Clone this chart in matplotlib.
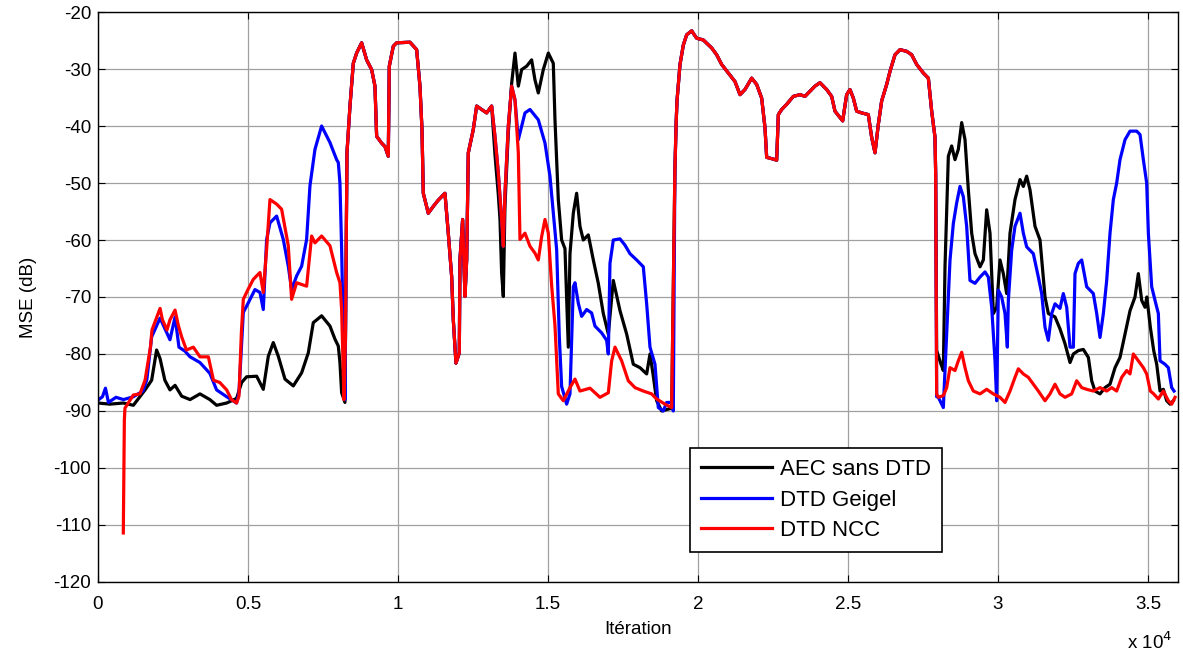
import numpy as np
import matplotlib
matplotlib.use("Agg")
import matplotlib.pyplot as plt

plt.rcParams['font.family'] = ['Liberation Sans', 'DejaVu Sans']
plt.rcParams['axes.unicode_minus'] = False

# Values (iteration, MSE in dB)
# --- first part, each curve on its own
black_pre_it = [0, 400, 845, 1180, 1570, 1790, 1955, 2070, 2230, 2400, 2570, 2790, 3070, 3400, 3730,
                3955, 4290, 4620, 4790, 4955, 5290, 5511, 5678, 5844, 6011, 6233, 6511, 6789, 7011,
                7177, 7455, 7733, 7900, 8011, 8066, 8122, 8233]
black_pre_db = [-88.6, -88.8, -88.6, -89.0, -86.3, -84.6, -79.3, -80.8, -84.6, -86.3, -85.5, -87.4,
                -88.0, -87.0, -88.0, -89.0, -88.6, -87.8, -85.0, -84.0, -83.9, -86.2, -80.4, -78.0,
                -80.4, -84.4, -85.6, -83.3, -79.8, -74.5, -73.3, -75.1, -77.4, -78.6, -81.5, -86.8,
                -88.5]

blue_pre_it = [0, 150, 250, 350, 600, 850, 1180, 1500, 1630, 1790, 2070, 2400, 2570, 2700, 2900,
               3070, 3400, 3730, 3955, 4290, 4620, 4700, 4845, 4955, 5233, 5400, 5511, 5622, 5733,
               5955, 6177, 6344, 6455, 6622, 6789, 6955, 7066, 7233, 7455, 7733, 7955, 8011, 8066,
               8122, 8177, 8233]
blue_pre_db = [-88.1, -87.5, -86.0, -88.5, -87.6, -88.0, -87.5, -86.5, -84.5, -77.0, -73.7, -77.5,
               -73.5, -78.8, -79.5, -80.5, -81.5, -83.4, -86.3, -87.5, -88.6, -86.8, -72.7, -71.6,
               -68.7, -69.2, -72.2, -59.9, -57.0, -55.8, -59.9, -64.6, -68.7, -66.3, -64.6, -59.9,
               -50.5, -44.1, -40.0, -42.9, -45.9, -46.4, -50.0, -61.6, -76.3, -88.0]

red_pre_it = [845, 880, 900, 1180, 1400, 1570, 1750, 1800, 2070, 2150, 2300, 2400, 2570, 2680, 2790,
              2950, 3180, 3400, 3680, 3850, 4060, 4290, 4450, 4620, 4700, 4780, 4845, 5000, 5178,
              5400, 5511, 5622, 5733, 5955, 6122, 6344, 6455, 6622, 6955, 7122, 7233, 7455, 7733,
              7955, 8066, 8122, 8200, 8250]
red_pre_db = [-111.4, -91.6, -89.5, -87.2, -87.0, -84.6, -78.8, -75.8, -72.0, -74.0, -75.8, -74.0,
              -72.3, -75.0, -77.0, -79.3, -78.8, -80.5, -80.5, -84.6, -85.0, -86.3, -88.0, -88.6,
              -87.4, -76.3, -70.4, -68.7, -66.9, -65.7, -69.2, -61.6, -52.9, -53.7, -54.6, -61.0,
              -70.4, -67.5, -68.1, -59.3, -60.5, -59.3, -61.0, -65.7, -67.5, -72.2, -88.0, -77.0]

# --- first double-talk zone, the three curves coincide
common_a_it = [8300, 8400, 8511, 8622, 8789, 8955, 9122, 9233, 9289, 9455, 9566, 9677, 9711, 9844,
               9955, 10400, 10622, 10733, 10800, 10844, 11011, 11177, 11344, 11566, 11677, 11789,
               11844, 11933, 12044, 12066, 12155, 12233, 12290, 12344, 12511, 12622, 12789, 12955,
               13122]
common_a_db = [-44.7, -36.5, -29.0, -27.2, -25.4, -28.4, -30.1, -33.0, -41.8, -43.0, -43.6, -45.3,
               -29.5, -26.0, -25.4, -25.3, -26.6, -33.0, -40.6, -51.8, -55.3, -54.1, -53.0, -51.8,
               -58.8, -66.4, -74.0, -81.6, -79.8, -63.5, -56.4, -69.9, -63.5, -44.7, -40.6, -36.5,
               -37.1, -37.7, -36.5]

# --- middle part
black_mid_it = [13233, 13344, 13400, 13455, 13511, 13566, 13677, 13789, 13900, 14011, 14122, 14289,
                14455, 14566, 14677, 14844, 15011, 15177, 15233, 15344, 15455, 15566, 15677, 15733,
                15844, 15955, 16066, 16177, 16344, 16511, 16677, 16844, 17011, 17177, 17400, 17622,
                17844, 18066, 18289, 18400, 18500, 18622, 18789, 19122]
black_mid_db = [-45.0, -52.0, -56.4, -65.8, -69.9, -54.0, -41.2, -32.5, -27.2, -33.0, -30.1, -29.5,
                -28.4, -31.9, -34.2, -30.1, -27.2, -29.0, -38.9, -52.9, -60.0, -61.5, -78.8, -62.4,
                -55.3, -51.8, -57.6, -60.0, -59.1, -63.5, -67.6, -72.9, -76.5, -67.1, -72.4, -76.5,
                -81.8, -82.4, -83.5, -80.0, -83.5, -88.2, -90.0, -89.5]

blue_mid_it = [13233, 13344, 13455, 13511, 13566, 13677, 13789, 13900, 14011, 14233, 14400, 14677,
               14900, 15066, 15177, 15289, 15377, 15455, 15622, 15733, 15844, 15900, 16011, 16122,
               16289, 16455, 16566, 16789, 16955, 17011, 17066, 17177, 17400, 17566, 17733, 17955,
               18177, 18289, 18400, 18566, 18677, 18844, 18955, 19122, 19177]
blue_mid_db = [-41.8, -48.2, -56.4, -61.1, -51.8, -40.0, -33.0, -35.4, -42.4, -37.7, -37.1, -38.9,
               -43.0, -48.8, -55.3, -61.7, -76.9, -85.7, -88.8, -87.0, -68.2, -67.5, -71.1, -73.4,
               -72.2, -72.8, -75.1, -76.3, -77.6, -80.0, -64.1, -60.0, -59.8, -60.9, -62.4, -63.5,
               -64.7, -71.2, -78.8, -81.8, -89.4, -90.0, -88.5, -88.5, -90.0]

red_mid_it = [13233, 13344, 13455, 13511, 13566, 13677, 13789, 13900, 14011, 14066, 14233, 14400,
              14566, 14677, 14789, 14900, 15011, 15122, 15233, 15344, 15511, 15733, 15900, 16066,
              16400, 16733, 17011, 17122, 17233, 17455, 17677, 17900, 18177, 18455, 18622, 18900,
              19122]
red_mid_db = [-41.8, -48.2, -56.4, -61.1, -51.8, -40.0, -33.0, -35.4, -44.7, -59.9, -58.8, -61.1,
              -62.3, -63.5, -59.4, -56.4, -58.8, -68.0, -75.0, -87.0, -88.2, -85.9, -84.4, -86.5,
              -86.0, -87.6, -86.8, -81.2, -78.8, -81.2, -84.7, -85.9, -86.5, -87.0, -87.9, -88.8,
              -89.4]

# --- second double-talk zone, the three curves coincide
common_b_it = [19230, 19270, 19300, 19400, 19511, 19622, 19789, 19955, 20177, 20455, 20622, 20789,
               21011, 21233, 21400, 21566, 21789, 21955, 22122, 22233, 22289, 22511, 22622, 22678,
               22789, 22955, 23177, 23400, 23566, 23733, 23900, 24066, 24289, 24455, 24566, 24733,
               24822, 24955, 25066, 25177, 25289, 25455, 25677, 25789, 25900, 26011, 26122, 26289,
               26400, 26566, 26733, 26955, 27122, 27289, 27511, 27678, 27789, 27900, 27922]
common_b_db = [-47.8, -39.7, -35.6, -29.2, -25.8, -24.0, -23.3, -24.6, -24.9, -26.3, -27.5, -29.2,
               -30.7, -32.2, -34.5, -33.6, -31.6, -32.7, -35.1, -40.3, -45.5, -45.8, -46.0, -38.0,
               -37.1, -36.2, -34.8, -34.5, -34.8, -33.9, -33.0, -32.4, -33.6, -34.8, -37.4, -38.5,
               -39.1, -34.5, -33.6, -35.1, -37.4, -37.7, -38.0, -42.0, -44.7, -39.7, -35.6, -32.7,
               -30.4, -27.5, -26.6, -26.9, -27.5, -29.2, -30.7, -31.6, -37.4, -42.0, -48.4]

# --- last part
black_post_it = [27955, 28100, 28177, 28233, 28344, 28455, 28566, 28677, 28789, 28900, 29011, 29122,
                 29233, 29400, 29511, 29622, 29733, 29844, 29955, 30066, 30177, 30289, 30400, 30566,
                 30733, 30844, 30955, 31066, 31233, 31400, 31566, 31678, 31900, 32066, 32233, 32400,
                 32511, 32677, 32844, 33011, 33122, 33233, 33400, 33566, 33733, 33900, 34066, 34233,
                 34400, 34566, 34677, 34789, 34900, 34960, 35077, 35189, 35289, 35400, 35511, 35622,
                 35733, 35844]
black_post_db = [-79.4, -81.8, -82.9, -64.7, -45.3, -43.5, -45.9, -44.1, -39.4, -42.4, -51.2, -58.8,
                 -62.4, -64.7, -63.5, -54.7, -58.8, -72.9, -71.8, -63.5, -65.9, -69.4, -58.8, -52.9,
                 -49.4, -50.6, -48.8, -51.2, -57.6, -60.0, -70.0, -72.9, -73.5, -75.6, -78.2, -81.5,
                 -80.0, -79.4, -79.2, -80.6, -84.7, -86.5, -87.0, -85.9, -85.3, -82.4, -80.6, -76.5,
                 -72.4, -70.0, -65.9, -70.6, -71.8, -70.0, -75.3, -79.4, -81.8, -86.5, -86.2, -88.2,
                 -88.8, -88.2]

blue_post_it = [27955, 28011, 28177, 28289, 28400, 28511, 28622, 28733, 28844, 28955, 29066, 29233,
                29400, 29566, 29677, 29789, 29900, 29955, 30011, 30122, 30233, 30311, 30344, 30455,
                30566, 30733, 30844, 30955, 31177, 31344, 31455, 31566, 31677, 31789, 31900, 32066,
                32177, 32289, 32400, 32511, 32566, 32677, 32789, 32955, 33177, 33289, 33400, 33511,
                33622, 33733, 33844, 33955, 34066, 34233, 34400, 34622, 34733, 34844, 34955, 35011,
                35122, 35233, 35344, 35400, 35566, 35677, 35789, 35867]
blue_post_db = [-87.5, -87.6, -89.4, -76.5, -63.5, -57.1, -53.5, -50.6, -52.4, -57.6, -67.1, -67.6,
                -66.5, -65.6, -66.5, -71.8, -81.2, -88.2, -68.8, -70.0, -72.9, -78.8, -70.6, -61.8,
                -57.6, -55.3, -58.8, -61.2, -62.4, -66.5, -69.4, -75.3, -77.6, -72.9, -71.2, -72.0,
                -69.4, -71.8, -78.8, -78.8, -65.9, -64.1, -63.5, -68.2, -69.4, -72.9, -77.1, -72.9,
                -67.1, -58.8, -52.9, -50.0, -45.9, -42.4, -40.9, -40.9, -41.5, -45.9, -50.0, -58.8,
                -68.2, -70.6, -72.9, -81.2, -81.8, -82.4, -85.9, -86.5]

red_post_it = [27955, 28011, 28177, 28289, 28400, 28566, 28677, 28789, 28900, 29011, 29177, 29400,
               29622, 29844, 30066, 30233, 30400, 30566, 30677, 30844, 31011, 31177, 31344, 31566,
               31733, 31900, 32066, 32233, 32455, 32622, 32789, 32955, 33177, 33400, 33622, 33789,
               33955, 34122, 34289, 34400, 34511, 34677, 34844, 34955, 35077, 35189, 35344, 35511,
               35677, 35789, 35900]
red_post_db = [-87.0, -87.6, -87.3, -85.9, -82.4, -82.9, -81.2, -79.7, -82.4, -84.7, -86.5, -87.0,
               -86.2, -87.0, -87.6, -88.5, -86.5, -84.1, -82.6, -83.5, -84.1, -85.3, -86.5, -88.2,
               -87.0, -85.3, -87.0, -87.6, -87.0, -84.7, -85.9, -86.2, -86.5, -85.9, -86.5, -85.9,
               -86.5, -84.1, -82.9, -83.5, -80.0, -81.2, -82.4, -83.5, -86.5, -87.0, -87.9, -86.5,
               -88.2, -88.8, -87.6]

labels = ['AEC sans DTD', 'DTD Geigel', 'DTD NCC']
x_ticks = [0, 5000, 10000, 15000, 20000, 25000, 30000, 35000]
x_ticklabels = ['0', '0.5', '1', '1.5', '2', '2.5', '3', '3.5']
y_ticks = list(range(-120, -19, 10))

# assemble each curve from its parts
black_it = black_pre_it + common_a_it + black_mid_it + common_b_it + black_post_it
black_db = black_pre_db + common_a_db + black_mid_db + common_b_db + black_post_db
blue_it = blue_pre_it + common_a_it + blue_mid_it + common_b_it + blue_post_it
blue_db = blue_pre_db + common_a_db + blue_mid_db + common_b_db + blue_post_db
red_it = red_pre_it + common_a_it + red_mid_it + common_b_it + red_post_it
red_db = red_pre_db + common_a_db + red_mid_db + common_b_db + red_post_db

fig = plt.figure(figsize=(11.83, 6.57), dpi=100)
ax = fig.add_axes([0.0828, 0.1142, 0.9130, 0.8675])

ax.plot(black_it, black_db, color='black', lw=2.3, label=labels[0])
ax.plot(blue_it, blue_db, color='blue', lw=2.3, label=labels[1])
ax.plot(red_it, red_db, color='red', lw=2.3, label=labels[2])

ax.set_xlim(0, 36000)
ax.set_ylim(-120, -20)
ax.set_xticks(x_ticks)
ax.set_xticklabels(x_ticklabels)
ax.set_yticks(y_ticks)
ax.grid(True, color='#a0a0a0', lw=0.9)
ax.set_axisbelow(True)
ax.tick_params(direction='in', top=True, right=True, labelsize=13.5, length=5)
ax.tick_params(axis='x', pad=10)
ax.tick_params(axis='y', pad=5)
for s in ax.spines.values():
    s.set_linewidth(1.0)

ax.set_xlabel('Itération', fontsize=13.5, labelpad=6)
ax.set_ylabel('MSE (dB)', fontsize=13.5, labelpad=12)
fig.text(0.953, 0.012, r'x 10$^{4}$', fontsize=13.5)

leg = ax.legend(loc='lower left', bbox_to_anchor=(0.548, 0.0526), borderaxespad=0,
                fontsize=16, handlelength=3.2, handletextpad=0.35, fancybox=False,
                framealpha=1, edgecolor='black', borderpad=0.5, labelspacing=0.42)
leg.get_frame().set_linewidth(1.2)

fig.savefig('out.png', dpi=100)
